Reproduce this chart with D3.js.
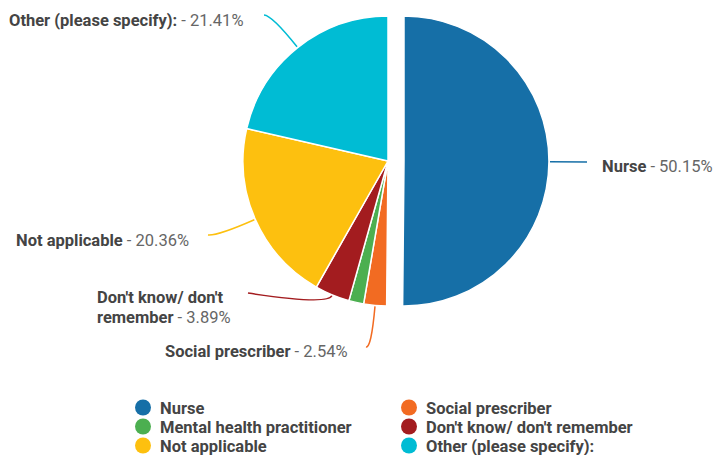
<!DOCTYPE html>
<html>
<head>
<meta charset="utf-8">
<script src="https://cdn.jsdelivr.net/npm/d3@7/dist/d3.min.js"></script>
<style>
  html, body { margin: 0; padding: 0; background: #fff; }
  svg { display: block; font-family: Roboto, "Noto Sans", sans-serif; }
</style>
</head>
<body>
<svg id="chart" width="713" height="455"></svg>
<script>
// Survey answers, in drawing order (clockwise from 12 o'clock)
const categories = [
  "Nurse",
  "Social prescriber",
  "Mental health practitioner",
  "Don't know/ don't remember",
  "Not applicable",
  "Other (please specify):"
];
const percentages = [50.15, 2.54, 1.65, 3.89, 20.36, 21.41];
const colors = ["#166fa7", "#f26b22", "#4caf50", "#a31c1f", "#fdc00f", "#00bcd4"];

// Slice labels: first lines in bold, then the value
const labelLines = [
  ["Nurse"],
  ["Social prescriber"],
  null,
  ["Don't know/ don't", "remember"],
  ["Not applicable"],
  ["Other (please specify):"]
];

const svg = d3.select("#chart");
const cx = 388, cy = 161, radius = 145;
const explode = [16, 0, 0, 0, 0, 0];
const fontSize = 16.5;

const pie = d3.pie().sort(null).value(d => d.value);
const arcs = pie(categories.map((c, i) => ({ name: c, value: percentages[i], i })));
const arc = d3.arc().innerRadius(0).outerRadius(radius);

const g = svg.append("g").attr("transform", `translate(${cx},${cy})`);

function mid(d) { return (d.startAngle + d.endAngle) / 2; }
function offsetOf(d) {
  const a = mid(d), o = explode[d.data.i];
  return [Math.sin(a) * o, -Math.cos(a) * o];
}

g.selectAll("path.slice")
  .data(arcs)
  .join("path")
  .attr("class", "slice")
  .attr("transform", d => `translate(${offsetOf(d)})`)
  .attr("d", arc)
  .attr("fill", d => colors[d.data.i])
  .attr("stroke", "#fff")
  .attr("stroke-width", 1.5)
  .attr("stroke-linejoin", "round");

// Leader-line layout: where each label sits, and where the line ends
const labelLayout = {
  0: { end: [199, 1], elbow: 0,  text: [214, 10.5] },
  1: { end: [-22, 186], elbow: 42, text: [-223, 195.5] },
  3: { end: [-140, 132], elbow: 10, text: [-291, 142] },
  4: { end: [-180, 74], elbow: 40, text: [-372, 85] },
  5: { end: [-124, -146], elbow: 40, text: [-379, -135.5] }
};

arcs.forEach(d => {
  const lay = labelLayout[d.data.i];
  if (!lay) return;
  const a = mid(d);
  const [ox, oy] = offsetOf(d);
  const r0 = radius + 1;
  const sx = ox + Math.sin(a) * r0, sy = oy - Math.cos(a) * r0;
  const kx = sx + Math.sin(a) * lay.elbow, ky = sy - Math.cos(a) * lay.elbow;
  const p = d3.path();
  p.moveTo(sx, sy);
  if (lay.elbow > 0) p.quadraticCurveTo(kx, ky, lay.end[0], lay.end[1]);
  else p.lineTo(lay.end[0], lay.end[1]);
  g.append("path")
    .attr("d", p.toString())
    .attr("fill", "none")
    .attr("stroke", colors[d.data.i])
    .attr("stroke-width", 1.5);

  const lines = labelLines[d.data.i];
  const t = g.append("text")
    .attr("x", lay.text[0]).attr("y", lay.text[1])
    .attr("font-size", fontSize);
  lines.forEach((ln, k) => {
    t.append("tspan")
      .attr("x", lay.text[0])
      .attr("dy", k === 0 ? 0 : 19.5)
      .attr("font-weight", 700)
      .attr("fill", "#444")
      .text(ln);
    if (k === lines.length - 1) {
      t.append("tspan")
        .attr("font-weight", 400)
        .attr("fill", "#666")
        .text(" - " + d3.format(".2f")(d.data.value) + "%");
    }
  });
});

// Legend: two columns, filled row by row
const legend = svg.append("g").attr("class", "legend");
const colX = [143, 409], rowY = [407.5, 426.5, 445.5];
categories.forEach((c, i) => {
  const x = colX[i % 2], y = rowY[Math.floor(i / 2)];
  legend.append("circle")
    .attr("cx", x).attr("cy", y).attr("r", 8)
    .attr("fill", colors[i]);
  legend.append("text")
    .attr("x", x + 17).attr("y", y + 6)
    .attr("font-size", fontSize)
    .attr("font-weight", 700)
    .attr("fill", "#444")
    .text(c);
});
</script>
</body>
</html>
